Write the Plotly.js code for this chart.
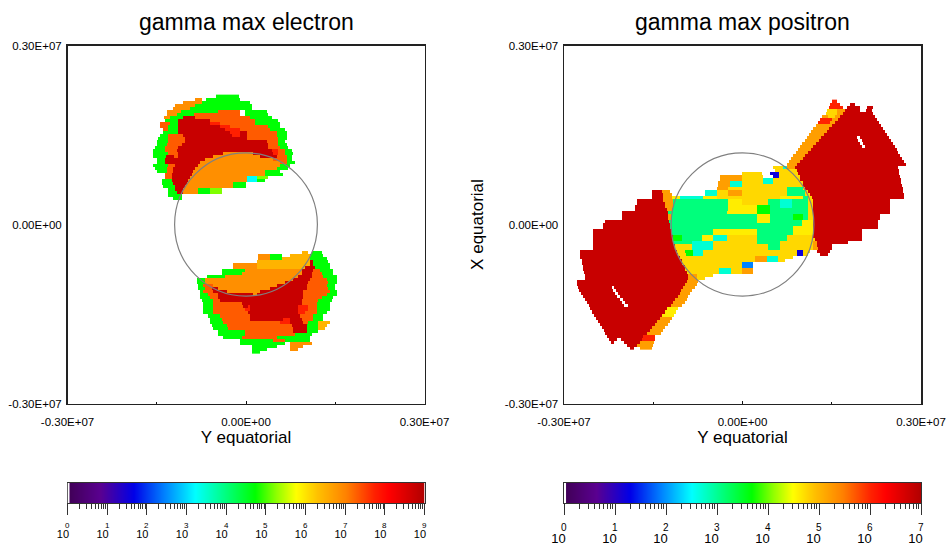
<!DOCTYPE html>
<html><head><meta charset="utf-8">
<script src="https://cdn.plot.ly/plotly-3.0.1.min.js"></script>
<style>html,body{margin:0;padding:0;background:#fff}#c{width:949px;height:550px}</style>
</head><body><div id="c"></div>
<script>
// log10(gamma max) per colour class
const electronLevels = {g:4.7,L:5.2,Y:6.45,o:6.85,O:7.3,R:7.75,D:8.73,c:3.25};
const positronLevels = {p:1.2,b:1.9,c:2.7,G:3.1,g:3.68,Y:4.6,y:4.74,o:5.2,R:6.0,D:6.79};
// rows of the equatorial map, top to bottom: class letter + column where that class stops ('.' = no data)
const electronRows = [
".76g99",".55o62.66g100",".43o62g110",".35o55g112",".33o50g112",".27o41g78O100.105g127",".27o37g54O100.105g128",
".24o30g43D55O110g132",".25g38D70O115g138",".20O30g38D70R80O115g140",".20O28g38D80R90O128g140",".23O28g38D85R100O130g145",
".23g38D90R100D107O137g147",".20g28O43D92R100D107O137g147",".18g28O45D107O138g147",".17g28O45D127O138g145",
".17g27O42D128O138g147",".15g25O38D128O140g148",".13g25O37D132R138O145g152",".13g28O38D83o113D133R138O145g153",
".13g26D34O38D73o120D137O147g152",".17g25D65o133O147g152",".17g25D60o140O147g155",".13g28O35D58o140g150",
".15g27O33D55o137g148",".17g27O33D53o125g140",".25O32D52o125g143",".25O32D50o107c117L128",".22g32D48o107c117g125",
".22g33D47o93g106",".23g35D45o93g106",".28g35D43o58g70L82",".28g37D43o58g70L82",".28g42",".33g42",
"","","","","","","","","","","","","","","","","",
".162Y168.172g182",".118o130g142.150Y170g183",".118o130g142Y170g187",".117Y170D173g188",".93o117Y170D173g190",
".93o117Y165D175g190",".82g105o162D173O180g193",".82g102o162D172O182g193",".67g85o158D172O183g197",".57g65o153D170O187g197",
".57g65o145D168O188g197",".58g63O73o137D167O187g195",".58g65O72D78o130D167O188g195",".60g63O73D87o120D163O190g197",
".60g68O78D113o117D163O187g197",".60g70O78D163O182g193",".62g73O80D162O178g192",".63g73O102D162O177g190",
".63g73O103D108R110D158R168O177g190",".63g73O105R110D158R168O177g190",".63g73O108D158R165O177g187",".68g80O110D160O173g183",
".70g82O110D143R150D162O173g183",".70g83O140R150D163O168g178Y190",".72g87O152D167g178Y187",".73g88O153D167g178Y185",
".78g105O153D167g178",".78g105O155g172",".83g102O137g170",".100g133O145g170",".100g145.150o172",".112g137.150o163",
".112g127.150o158",".112g120"];
const positronRows = [
".262R267",".260R270.280D285",".259R273.277D290.297D303",".257y267o275D290.296D302",".256y267o273D303",".252o258y265o270D305",
".250R262o268D307",".248R260o265D309",".246o262D311",".243o259D313",".241o257D315",".239o254D317",".237o251D287.290D319",
".235o249D288.292D321",".232o246D290.293D323",".230o243D292.295D325",".228o241D327",".226o238D328",".223o235D330",
".221o233D332",".219o230D334",".217o227D336",".203y213c217o225D328",".205y227D329",".172y192.200p209y228D329",
".150o172y193.203p209y230D330",".150o172y193c203y230D331",".148o160c172y193c203y233D331",".148o160c172y233D332",
".147o158y217G233y235D333",".82D92o100.135c147y158o172y217G235y238D333",".82D93o102.135c147y158o172y217G235y240D334",
".82D93o102Y110c133Y147y210Y233G238y242D334",".67D93o103G158Y172y198G210c222G238y243D320",
".67D95o103G158Y172y198G210c222G238y243D320",".65D95o103G158Y187g200G210c222G238y243D320",
".65D97o102G158Y187g200G238y243D320",".52D98G157Y187g200G238y243D320",".52D98o101G187Y200G223g233G238y243D310",
".52D98o101G187Y200G223g233G238y243D310",".35D99G187Y200G232Y243D308",".33D100G232Y243D308",".33D100G223Y243D308",
".23D102G143Y187G223Y243D292",".23D102G143Y187G223Y243D292",".23D103g112G132Y143c157y187G217y243D292",
".23D103g112G132Y143c157y187G217y245D292",".23D103G122c143y187G210y243o247D278",".23D105y122c143y198G210y243o247D262",
".23D105y122c143y198G210y243o248D262",".10D107y115g123c133y227p233y240.247D260",".10D108y116g123c133y227p233y238.250D258",
".10D110y185o197c208y223",".12D112y185o197c208y215",".12D112y172b183",".13D115y172b183",".13D115y149c161y172o183",
".14D117y149c161y172o183",".15D118o127y143",".15D118o127y135",".7D117o128",".7D115o127",".8D42.44D113o125",".9D43.46D111o122",
".11D45.48D110o120",".13D47.50D108o118",".15D50.53D105o117",".17D52.55D103o115",".19D54.58D101o112",".20D97Y108",".22D95Y106",
".24D92Y104",".26D90o102",".28D87o100",".30D85o98",".32D82o95",".34D80o93",".35D77o91",".37D73R85",".39D47.51D72R85",".41D44.54D70o84",
".57D67o83",".60D64.70o82"];
const electronDecades = [0,1,2,3,4,5,6,7,8,9];
const positronDecades = [0,1,2,3,4,5,6,7];
const decadeSteps = [2,3,4,5,6,7,8,9];
const axisTicks = [-3e6,0,3e6];
const axisTickText = ["-0.30E+07","0.00E+00","0.30E+07"];
const axisMinor = [-1.5e6,1.5e6];
const surfaceRadius = 1.2e6;
const rainbow = [[0,"#400055"],[0.09,"#5a0090"],[0.185,"#0000e8"],[0.27,"#0080ff"],[0.357,"#00ffff"],[0.44,"#00ff80"],
 [0.525,"#00ff00"],[0.585,"#90ff00"],[0.64,"#ffff00"],[0.70,"#ffc000"],[0.78,"#ff8000"],[0.86,"#ff2000"],[0.90,"#ff0000"],[1,"#b00000"]];

const FONT = "Liberation Sans, Arial, sans-serif";
const W=949,H=550, pxX=v=>v/W, pxY=v=>1-v/H;
function decode(rows,levels){
  const n=Math.max(...rows.map(r=>{const m=[...r.matchAll(/(\D)(\d+)/g)];return m.length?+m[m.length-1][2]:0;}));
  return rows.map(r=>{const a=new Array(n).fill(null);let c=0;
    for(const m of r.matchAll(/(\D)(\d+)/g)){const e=+m[2];for(;c<e;c++)a[c]=m[1]==='.'?null:levels[m[1]];}
    return a;});
}
const UNIT=6e6/357; // data units per column
const heat=(rows,levels,zmax,x0,y0,xa,ya)=>({type:'heatmap',z:decode(rows,levels),x0:x0,dx:UNIT,y0:y0,dy:-3*UNIT,zmin:0,zmax:zmax,
  colorscale:rainbow,showscale:false,xaxis:xa,yaxis:ya,hoverongaps:false,zsmooth:false});
const bar=(decades,xa,ya)=>({type:'heatmap',z:[decades],x:decades,y:[0],zmin:decades[0],zmax:decades[decades.length-1],colorscale:rainbow,
  showscale:false,xaxis:xa,yaxis:ya,zsmooth:'best',hoverinfo:'skip'});
const mainAxis=(dom,anchor,isX)=>({domain:dom,anchor:anchor,range:[-3e6,3e6],tickmode:'array',tickvals:axisTicks,ticktext:axisTickText,
  ticks:isX?'inside':'',ticklen:3,tickcolor:'#111',tickwidth:1,showgrid:false,zeroline:false,showline:true,linecolor:'#222',linewidth:1.5,mirror:true,
  tickfont:{family:FONT,size:11.5,color:'#000'},ticklabelstandoff:isX?7:2,
  minor:isX?{tickmode:'array',tickvals:axisMinor,ticks:'inside',ticklen:2,tickcolor:'#111',tickwidth:1,showgrid:false}:undefined});
const barAxis=(dom,anchor,decades,size,pad)=>({domain:dom,anchor:anchor,range:[decades[0],decades[decades.length-1]],tickmode:'array',
  tickvals:decades,ticktext:decades.map(()=>"10\u00a0\u00a0\u00a0"),ticks:'outside',ticklen:11,tickcolor:'#333',tickwidth:1,
  tickfont:{family:FONT,size:size,color:'#000'},ticklabelstandoff:pad,showgrid:false,zeroline:false,showline:true,linecolor:'#333',linewidth:1,mirror:true,
  minor:{tickmode:'array',ticks:'outside',ticklen:5,tickcolor:'#333',tickwidth:1,showgrid:false,
    tickvals:decades.slice(0,-1).flatMap(d=>decadeSteps.map(s=>d+Math.log10(s)))}});
const barY=(dom,anchor)=>({domain:dom,anchor:anchor,range:[-0.5,0.5],showticklabels:false,ticks:'',showgrid:false,zeroline:false,showline:true,linecolor:'#333',linewidth:1,mirror:true});

const domY=[pxY(403.5),pxY(45.5)], barDomY=[pxY(503),pxY(483)];
const dL=[pxX(67.5),pxX(424.5)], dR=[pxX(564),pxX(921)];
const axisTitle=(t,s)=>({text:t,font:{family:FONT,size:17},standoff:s});
const layout={width:W,height:H,margin:{l:0,r:0,t:0,b:0},paper_bgcolor:'#fff',plot_bgcolor:'#fff',showlegend:false,
  font:{family:FONT,color:'#000'},
  xaxis:Object.assign(mainAxis(dL,'y',true),{title:axisTitle('Y equatorial',3)}),
  yaxis:mainAxis(domY,'x',false),
  xaxis2:Object.assign(mainAxis(dR,'y2',true),{title:axisTitle('Y equatorial',3)}),
  yaxis2:Object.assign(mainAxis(domY,'x2',false),{title:axisTitle('X equatorial',17)}),
  xaxis3:barAxis(dL,'y3',electronDecades,11,10), yaxis3:barY(barDomY,'x3'),
  xaxis4:barAxis(dR,'y4',positronDecades,13,12), yaxis4:barY(barDomY,'x4'),
  shapes:[
    {type:'circle',xref:'x',yref:'y',x0:-surfaceRadius,x1:surfaceRadius,y0:-surfaceRadius,y1:surfaceRadius,line:{color:'#808080',width:1.2},layer:'above'},
    {type:'circle',xref:'x2',yref:'y2',x0:-surfaceRadius,x1:surfaceRadius,y0:-surfaceRadius,y1:surfaceRadius,line:{color:'#808080',width:1.2},layer:'above'},
    {type:'rect',xref:'x3',yref:'y3',x0:0,x1:0.05,y0:-0.5,y1:0.5,fillcolor:'#fff',line:{width:0},layer:'above'},
    {type:'rect',xref:'x4',yref:'y4',x0:0,x1:0.04,y0:-0.5,y1:0.5,fillcolor:'#fff',line:{width:0},layer:'above'}],
  annotations:[
    {text:'gamma max electron',xref:'paper',yref:'paper',x:pxX(246),y:pxY(22),showarrow:false,font:{family:FONT,size:23},xanchor:'center',yanchor:'middle'},
    {text:'gamma max positron',xref:'paper',yref:'paper',x:pxX(742.5),y:pxY(22),showarrow:false,font:{family:FONT,size:23},xanchor:'center',yanchor:'middle'},
    ...electronDecades.map(d=>({text:String(d),xref:'x3',yref:'paper',x:d,y:pxY(525),showarrow:false,font:{family:FONT,size:8},xanchor:'center',yanchor:'middle'})),
    ...positronDecades.map(d=>({text:String(d),xref:'x4',yref:'paper',x:d,y:pxY(527),showarrow:false,font:{family:FONT,size:10},xanchor:'center',yanchor:'middle'}))
  ]};
const traces=[
  heat(electronRows,electronLevels,9,(140.5-246)*UNIT,(224.5-96.5)*UNIT,'x','y'),
  heat(positronRows,positronLevels,7,(570.5-742.5)*UNIT,(224.5-101.5)*UNIT,'x2','y2'),
  bar(electronDecades,'x3','y3'),
  bar(positronDecades,'x4','y4')];
Plotly.newPlot('c',traces,layout,{displayModeBar:false,staticPlot:true});
</script></body></html>
